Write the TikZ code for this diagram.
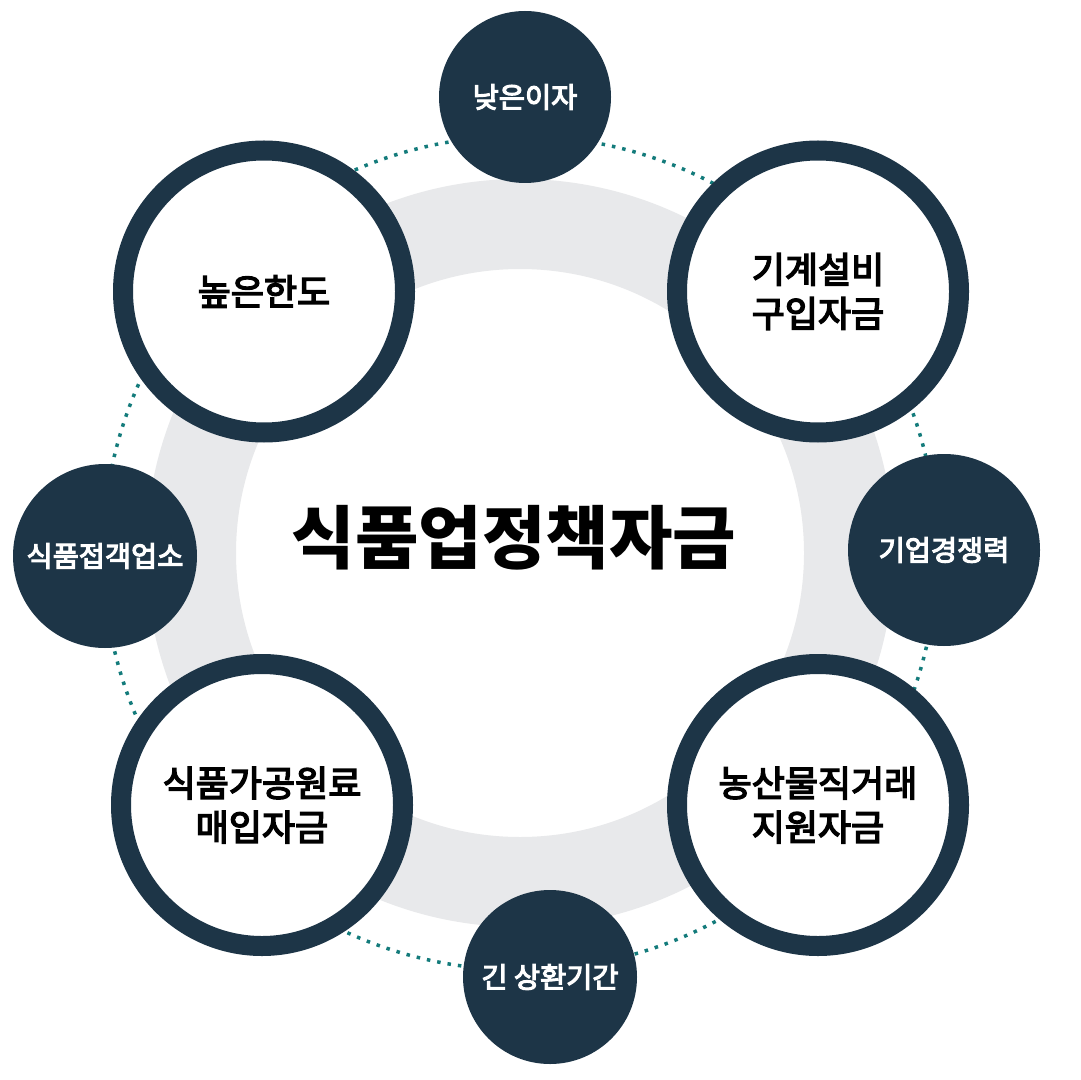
\documentclass[tikz,border=0pt]{standalone}
\usepackage{fontspec}
\newfontfamily\krfont{Noto Sans CJK KR}
\newfontfamily\krmed[FakeBold=4]{Noto Sans CJK KR}
\definecolor{navy}{HTML}{1D3547}
\definecolor{ringgray}{HTML}{E8E9EB}
\definecolor{dotteal}{HTML}{137B7B}
\tikzset{
  bigcirc/.style={circle, draw=navy, line width=10pt, fill=white, minimum size=141pt,
    inner sep=0pt, align=center, font=\krmed\fontsize{18}{22}\selectfont, text=black},
  smallcirc/.style={circle, fill=navy, inner sep=0pt, align=center,
    font=\krmed\fontsize{14.2}{17}\selectfont, text=white},
}
\begin{document}
\begin{tikzpicture}[x=0.5pt, y=-0.5pt]
  \useasboundingbox (0,0) rectangle (1080,1080);
  \fill[white] (0,0) rectangle (1080,1080);
  \coordinate (ctr) at (520,553);
  % dotted orbit
  \draw[dotteal, line width=1.75pt, dash pattern=on 1.75pt off 3.5pt] (ctr) circle (417);
  % grey band
  \draw[ringgray, line width=45pt] (ctr) circle (329);
  % title
  \node[font=\krfont\bfseries\fontsize{34.5}{38}\selectfont] (title) at (514,538) {식품업정책자금};
  % large outlined circles
  \node[bigcirc] (limit) at (264,291.5) {높은한도};
  \node[bigcirc] (equip) at (818,291.5) {기계설비\\구입자금};
  \node[bigcirc] (raw) at (262,805) {식품가공원료\\매입자금};
  \node[bigcirc] (direct) at (818,805) {농산물직거래\\지원자금};
  % small filled circles
  \node[smallcirc, minimum size=86pt] (rate) at (525,97) {낮은이자};
  \node[smallcirc, minimum size=92pt] (food) at (105,556) {식품접객업소};
  \node[smallcirc, minimum size=96pt] (comp) at (944,550) {기업경쟁력};
  \node[smallcirc, minimum size=87pt] (term) at (550,977) {긴 상환기간};
\end{tikzpicture}
\end{document}
